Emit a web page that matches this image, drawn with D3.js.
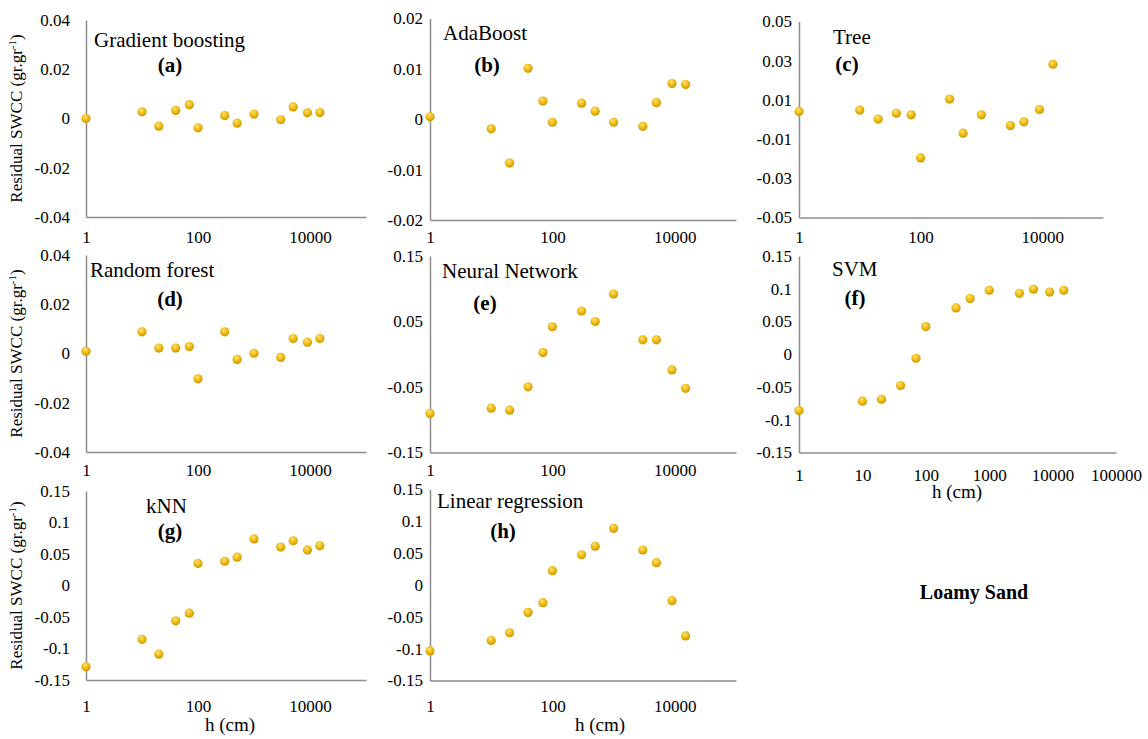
<!DOCTYPE html>
<html>
<head>
<meta charset="UTF-8"/>
<title>Residual SWCC - Loamy Sand</title>
<script src="https://d3js.org/d3.v7.min.js"></script>
<style>
  body { margin: 0; background: #fff; }
  .domain { stroke: #8c8c8c; stroke-width: 1.5px; }
</style>
</head>
<body>
<div id="chart"></div>
<script>
// suction head (cm) shared by every panel
var hValues = [1, 10, 20, 40, 70, 100, 300, 500, 1000, 3000, 5000, 9000, 15000];

// residuals, one array per model
var gradBoost = [0, 0.0027, -0.0031, 0.0033, 0.0056, -0.0038, 0.0012, -0.0019, 0.0018, -0.0005, 0.0047, 0.0023, 0.0024];
var adaBoost  = [0.0005, -0.0019, -0.0087, 0.0101, 0.0036, -0.0006, 0.0032, 0.0016, -0.0006, -0.0014, 0.0033, 0.0071, 0.0069];
var tree      = [0.0041, 0.0048, 0.0002, 0.0032, 0.0024, -0.0196, 0.0104, -0.0070, 0.0024, -0.0031, -0.0012, 0.0051, 0.0282];
var randForest= [0.0009, 0.0088, 0.0022, 0.0022, 0.0028, -0.0103, 0.0088, -0.0024, 0.0001, -0.0016, 0.0061, 0.0046, 0.0061];
var neuralNet = [-0.0905, -0.0824, -0.0854, -0.0498, 0.0025, 0.042, 0.066, 0.050, 0.092, 0.022, 0.022, -0.024, -0.052];
var svm       = [-0.086, -0.0717, -0.0687, -0.0478, -0.0061, 0.0422, 0.0707, 0.085, 0.0977, 0.093, 0.0992, 0.095, 0.0977];
var knn       = [-0.129, -0.0855, -0.109, -0.056, -0.044, 0.035, 0.0385, 0.045, 0.074, 0.061, 0.071, 0.0565, 0.063];
var linReg    = [-0.1035, -0.087, -0.075, -0.043, -0.0277, 0.0225, 0.0475, 0.061, 0.089, 0.055, 0.035, -0.0246, -0.080];

// tick labels
var ticks004 = [-0.04, -0.02, 0, 0.02, 0.04];
var ticks002 = [-0.02, -0.01, 0, 0.01, 0.02];
var ticks005 = [-0.05, -0.03, -0.01, 0.01, 0.03, 0.05];
var ticks015 = [-0.15, -0.05, 0.05, 0.15];
var ticks015b = [-0.15, -0.1, -0.05, 0, 0.05, 0.1, 0.15];
var xTicks = [1, 100, 10000];
var xTicksFull = [1, 10, 100, 1000, 10000, 100000];

var panelNames = ["Gradient boosting", "AdaBoost", "Tree", "Random forest", "Neural Network", "SVM", "kNN", "Linear regression"];
var panelLetters = ["(a)", "(b)", "(c)", "(d)", "(e)", "(f)", "(g)", "(h)"];
var panelSeries = [gradBoost, adaBoost, tree, randForest, neuralNet, svm, knn, linReg];
var panelTicks = [ticks004, ticks002, ticks005, ticks004, ticks015, ticks015b, ticks015b, ticks015b];

// layout of each panel (pixels)
var layout = [
  {l: 86,  r: 366,  t: 20,  b: 217, tx: 94,  ty: 46.5, lx: 170, ly: 72,  gap: 16, xpad: 13.5, xt: xTicks, ylab: true},
  {l: 430, r: 736,  t: 18.5,b: 220, tx: 443, ty: 40,   lx: 487, ly: 72,  gap: 7,  xpad: 11,   xt: xTicks},
  {l: 799, r: 1103, t: 21.5,b: 217.5,tx: 833,ty: 44,   lx: 847, ly: 71,  gap: 7,  xpad: 13.5, xt: xTicks},
  {l: 86,  r: 366,  t: 255, b: 452, tx: 90,  ty: 277,  lx: 170, ly: 306, gap: 16, xpad: 11.5, xt: xTicks, ylab: true},
  {l: 430, r: 736,  t: 256, b: 452.5,tx: 442,ty: 278,  lx: 485, ly: 310, gap: 7,  xpad: 11.5, xt: xTicks},
  {l: 799, r: 1116, t: 256, b: 452.5,tx: 832,ty: 276,  lx: 855, ly: 305, gap: 7,  xpad: 16,   xt: xTicksFull, xlab: [957, 498]},
  {l: 86,  r: 366,  t: 491, b: 680, tx: 146, ty: 513,  lx: 170, ly: 538, gap: 16, xpad: 20,   xt: xTicks, ylab: true, xlab: [230, 731]},
  {l: 430, r: 736,  t: 489.5,b: 680.5,tx: 437,ty: 508, lx: 503, ly: 538, gap: 7,  xpad: 19.5, xt: xTicks, xlab: [600, 731]}
];

var FONT = "Liberation Serif";
var W = 1148, H = 739;
var svg = d3.select("#chart").append("svg")
  .attr("width", W)
  .attr("height", H);

// golden marker fill
var grad = svg.append("defs").append("radialGradient")
  .attr("id", "gold")
  .attr("cx", "45%").attr("cy", "40%").attr("r", "60%")
  .attr("fx", "40%").attr("fy", "30%");
grad.append("stop").attr("offset", "0%").attr("stop-color", "#ffe47a");
grad.append("stop").attr("offset", "55%").attr("stop-color", "#f2bd14");
grad.append("stop").attr("offset", "100%").attr("stop-color", "#c99500");

panelSeries.forEach(function(series, i) {
  var p = layout[i];
  var yt = panelTicks[i];
  var g = svg.append("g");

  var xScale = d3.scaleLog().domain([1, 100000]).range([p.l, p.r]);
  var yScale = d3.scaleLinear().domain([d3.min(yt), d3.max(yt)]).range([p.b, p.t]);

  var yAxis = d3.axisLeft(yScale)
    .tickValues(yt)
    .tickSize(0)
    .tickPadding(p.gap)
    .tickFormat(function(d) { return String(+d.toFixed(2)); });

  var xAxis = d3.axisBottom(xScale)
    .tickValues(p.xt)
    .tickSize(0)
    .tickPadding(p.xpad)
    .tickFormat(d3.format("d"));

  g.append("g")
    .attr("transform", "translate(0," + p.b + ")")
    .call(xAxis)
    .selectAll("text")
    .attr("font-family", FONT)
    .attr("font-size", 17)
    .attr("fill", "#000");

  g.append("g")
    .attr("transform", "translate(" + p.l + ",0)")
    .call(yAxis)
    .selectAll("text")
    .attr("font-family", FONT)
    .attr("font-size", 17)
    .attr("fill", "#000");

  g.selectAll(".tick line").remove();

  //dots
  g.selectAll("circle")
    .data(series)
    .enter()
    .append("circle")
    .attr("cx", function(d, k) { return xScale(hValues[k]); })
    .attr("cy", function(d) { return yScale(d); })
    .attr("r", 4.6)
    .attr("fill", "url(#gold)");

  // model name and letter
  g.append("text")
    .attr("x", p.tx)
    .attr("y", p.ty)
    .attr("font-family", FONT)
    .attr("font-size", 21)
    .text(panelNames[i]);

  g.append("text")
    .attr("x", p.lx)
    .attr("y", p.ly)
    .attr("text-anchor", "middle")
    .attr("font-family", FONT)
    .attr("font-size", 21)
    .attr("font-weight", "bold")
    .text(panelLetters[i]);

  if (p.ylab) {
    var yl = g.append("text")
      .attr("transform", "translate(22," + ((p.t + p.b) / 2) + ") rotate(-90)")
      .attr("text-anchor", "middle")
      .attr("font-family", FONT)
      .attr("font-size", 17);
    yl.append("tspan").text("Residual SWCC (gr.gr");
    yl.append("tspan").attr("font-size", 11).attr("dy", -6).text("-1");
    yl.append("tspan").attr("dy", 6).text(")");
  }

  if (p.xlab) {
    g.append("text")
      .attr("x", p.xlab[0])
      .attr("y", p.xlab[1])
      .attr("text-anchor", "middle")
      .attr("font-family", FONT)
      .attr("font-size", 19)
      .text("h (cm)");
  }
});

svg.append("text")
  .attr("x", 974)
  .attr("y", 599)
  .attr("text-anchor", "middle")
  .attr("font-family", FONT)
  .attr("font-size", 20)
  .attr("font-weight", "bold")
  .text("Loamy Sand");
</script>
</body>
</html>
